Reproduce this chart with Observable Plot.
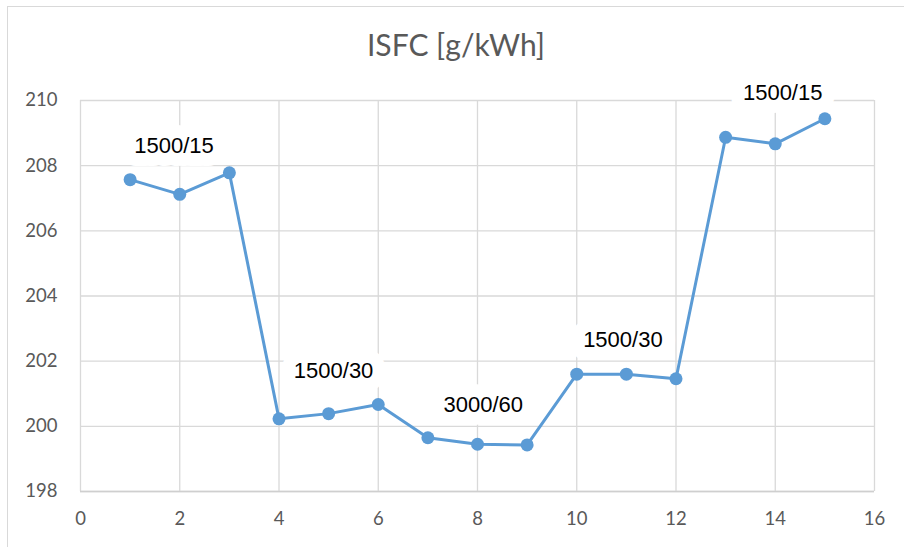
<!DOCTYPE html>
<html>
<head>
<meta charset="utf-8">
<script src="https://cdn.jsdelivr.net/npm/d3@7"></script>
<script src="https://cdn.jsdelivr.net/npm/@observablehq/plot@0.6"></script>
<style>
  html, body { margin: 0; padding: 0; background: #fff; }
  #wrap { position: relative; width: 904px; height: 547px; overflow: hidden; }
  #frame { position: absolute; left: 7px; top: 6px; width: 1000px; height: 1000px;
           border-left: 1.5px solid #d9d9d9; border-top: 1.5px solid #d9d9d9; }
  #title { position: absolute; left: 4px; width: 904px; top: 26px; text-align: center;
           font-family: Lato, sans-serif; font-size: 30px; color: #595959; }
  #chart { position: absolute; left: 0; top: 0; }
</style>
</head>
<body>
<div id="wrap">
  <div id="frame"></div>
  <div id="title">ISFC [g/kWh]</div>
  <div id="chart"></div>
</div>
<script>
const points = [1, 2, 3, 4, 5, 6, 7, 8, 9, 10, 11, 12, 13, 14, 15];
const isfc = [207.57, 207.12, 207.78, 200.23, 200.39, 200.67, 199.65, 199.45, 199.43, 201.6, 201.6, 201.46, 208.87, 208.67, 209.44];
const labelText = ["1500/15", "1500/30", "3000/60", "1500/30", "1500/15"];
const labelX = [1.885, 5.10, 8.115, 10.93, 14.15];
const labelY = [208.59, 201.70, 200.66, 202.66, 210.22];
const xTicks = [0, 2, 4, 6, 8, 10, 12, 14, 16];
const yTicks = [198, 200, 202, 204, 206, 208, 210];

const data = points.map((p, i) => ({x: p, y: isfc[i]}));
const labels = labelText.map((t, i) => ({t, x: labelX[i], y: labelY[i]}));

const chart = Plot.plot({
  width: 904,
  height: 547,
  marginLeft: 80,
  marginRight: 30,
  marginTop: 100,
  marginBottom: 56,
  style: {background: "transparent", overflow: "visible"},
  x: {domain: [0, 16], ticks: xTicks},
  y: {domain: [198, 210], ticks: yTicks},
  marks: [
    Plot.gridX(xTicks, {stroke: "#d9d9d9", strokeOpacity: 1, strokeWidth: 1.3}),
    Plot.gridY(yTicks, {stroke: "#d9d9d9", strokeOpacity: 1, strokeWidth: 1.3}),
    Plot.ruleY([198], {stroke: "#cfcfcf", strokeWidth: 1.5}),
    Plot.axisX(xTicks, {tickSize: 0, tickPadding: 20, fontSize: 18.5, fontFamily: "Lato, sans-serif", fill: "#595959", label: null}),
    Plot.axisY(yTicks, {tickSize: 0, tickPadding: 23, fontSize: 18.5, fontFamily: "Lato, sans-serif", fill: "#595959", label: null}),
    Plot.line(data, {x: "x", y: "y", stroke: "#5b9bd5", strokeWidth: 3}),
    Plot.dot(data, {x: "x", y: "y", r: 6.5, fill: "#5b9bd5", stroke: "none"}),
    Plot.text(labels, {x: "x", y: "y", text: "t", fontSize: 22, fontFamily: "'Liberation Sans', Arial, sans-serif",
      fill: "#000", stroke: "white", strokeWidth: 26, strokeLinejoin: "round", paintOrder: "stroke"})
  ]
});
document.getElementById("chart").appendChild(chart);
</script>
</body>
</html>
